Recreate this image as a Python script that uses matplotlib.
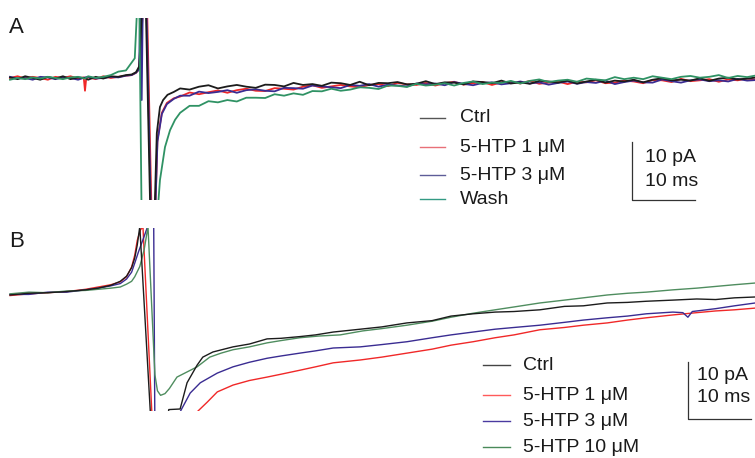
import matplotlib
matplotlib.use("Agg")
import matplotlib.pyplot as plt

plt.rcParams["font.family"] = ["Liberation Sans", "DejaVu Sans"]

# ---------------- Panel A (ms, pA) ----------------
a_t_pre = [0, 1.2, 2.4, 3.6, 4.8, 6, 7.2, 8.4, 9.6, 10.8, 11.9, 12.4, 13.6, 14.8, 16, 17.2, 18.4]
a_t_tail = [27.0, 28.5, 30.0, 31.5, 33.0, 34.5, 36.0, 37.5, 39.0, 40.5,
            42.0, 43.5, 45.0, 46.5, 48.0, 49.5, 51.0, 52.5, 54.0, 55.5,
            57.0, 58.5, 60.0, 61.5, 63.0, 64.5, 66.0, 67.5, 69.0, 70.5,
            72.0, 73.5, 75.0, 76.5, 78.0, 79.5, 81.0, 82.5, 84.0, 85.5,
            87.0, 88.5, 90.0, 91.5, 93.0, 94.5, 96.0, 97.5, 99.0, 100.5,
            102.0, 103.5, 105.0, 106.5, 108.0, 109.5, 111.0, 112.5, 114.0, 115.5,
            117.0, 118.5]

a_ctrl_pre = [0.1, -0.2, 0.3, 0.0, -0.3, 0.2, -0.1, 0.3, -0.2, 0.1, 0.0, -0.3, 0.2, -0.1, 0.3, 0.2, 0.5]
a_ctrl_t_stim = [19.3, 20.0, 20.5, 21.1, 21.5, 22.3, 22.9, 23.3, 23.8, 24.3, 25.0, 26.0]
a_ctrl_stim = [0.6, 1.0, 2.0, 15, 15, -25, -25, -9.5, -5.0, -3.8, -2.9, -2.4]
a_ctrl_tail = [-1.8, -2.0, -1.5, -1.25, -1.8, -1.45, -1.2, -1.5, -1.7, -1.15,
               -1.2, -1.45, -0.85, -1.2, -1.05, -1.35, -0.8, -0.9, -1.2, -0.65,
               -1.25, -0.85, -0.9, -0.7, -1.1, -1.0, -0.55, -1.05, -0.75, -0.8,
               -1.1, -0.6, -0.7, -0.9, -0.45, -0.95, -0.75, -1.0, -0.5, -0.6,
               -0.8, -0.45, -0.95, -0.6, -0.3, -0.8, -0.45, -0.6, -0.3, -0.75,
               -0.3, -0.05, -0.4, -0.3, -0.45, -0.05, -0.5, -0.1, 0.05, -0.25,
               -0.1, 0.1]

a_htp1_t_pre = [0, 1.2, 2.4, 3.6, 4.8, 6, 7.2, 8.4, 9.6, 10.8, 11.7, 11.9, 12.1, 12.4, 13.6, 14.8, 16, 17.2, 18.4]
a_htp1_pre = [0.0, 0.3, -0.1, 0.2, 0.0, -0.3, 0.2, 0.0, 0.3, -0.1, 0.1, -2.2, 0.0, 0.1, -0.2, 0.3, 0.0, 0.2, 0.4]
a_htp1_t_stim = [19.3, 20.0, 20.5, 21.3, 21.7, 22.5, 23.0, 23.4, 24.1, 24.9, 26.0]
a_htp1_stim = [0.5, 0.9, 1.5, 15, 15, -25, -25, -10.7, -6.0, -4.3, -3.5]
a_htp1_tail = [-3.2, -2.5, -2.8, -2.45, -2.15, -2.55, -2.1, -1.85, -2.2, -2.25,
               -1.75, -1.85, -2.0, -1.5, -1.25, -1.7, -1.45, -1.2, -1.45, -1.6,
               -1.2, -1.05, -1.4, -0.85, -1.1, -1.2, -0.85, -1.3, -0.9, -0.65,
               -1.15, -0.9, -0.7, -1.2, -0.75, -0.65, -0.95, -0.5, -1.0, -0.8,
               -0.6, -1.05, -0.65, -0.75, -0.4, -0.9, -0.8, -0.45, -0.6, -0.9,
               -0.35, -0.4, -0.7, -0.15, -0.55, -0.4, -0.2, -0.65, -0.25, -0.4,
               -0.1, -0.3]

a_htp3_pre = [0.2, -0.1, 0.0, -0.3, 0.2, 0.1, -0.2, 0.1, 0.0, -0.3, 0.1, 0.2, -0.1, 0.0, 0.2, 0.1, 0.4]
a_htp3_t_stim = [19.3, 20.0, 20.5, 20.7, 20.9, 21.1, 21.6, 22.4, 23.0, 23.4, 24.1, 24.9, 26.0]
a_htp3_stim = [0.5, 0.9, 1.5, 15, -3.8, 15, 15, -25, -25, -11.0, -6.2, -4.5, -3.6]
a_htp3_tail = [-3.05, -3.05, -2.35, -2.6, -2.4, -2.1, -2.55, -2.1, -1.95, -2.2,
               -2.3, -1.7, -1.75, -1.85, -1.3, -1.45, -1.6, -1.75, -1.2, -1.35,
               -1.05, -1.5, -1.15, -1.3, -1.45, -0.95, -1.1, -0.95, -1.25, -0.7,
               -1.0, -1.25, -0.85, -0.75, -1.1, -0.9, -0.6, -0.95, -0.75, -1.15,
               -0.85, -0.6, -1.0, -0.7, -0.85, -0.45, -1.05, -0.7, -0.45, -0.75,
               -0.8, -0.25, -0.55, -0.8, -0.4, -0.25, -0.55, -0.4, -0.6, -0.15,
               -0.45, -0.35]

a_wash_pre = [-0.3, 0.0, -0.2, 0.1, -0.1, 0.2, 0.0, -0.2, 0.1, 0.2, -0.1, 0.3, 0.0, 0.2, 0.5, 1.1, 1.3]
a_wash_t_stim = [19.0, 19.8, 20.3, 20.5, 20.9, 23.3, 23.8, 24.6, 25.4, 26.2]
a_wash_stim = [2.2, 3.4, 15, 15, -25, -25, -17.6, -11.9, -9.0, -7.2]
a_wash_tail = [-6.0, -4.8, -4.8, -4.0, -4.2, -3.8, -4.05, -3.4, -3.4, -3.45,
               -2.8, -3.05, -2.65, -2.9, -2.25, -2.3, -1.85, -2.2, -2.0, -1.6,
               -1.7, -1.9, -1.3, -1.35, -1.55, -1.0, -1.3, -1.15, -0.9, -1.3,
               -0.85, -0.6, -1.05, -0.8, -0.85, -0.5, -0.95, -0.5, -0.25, -0.7,
               -0.45, -0.3, -0.65, -0.1, -0.25, -0.4, 0.15, -0.2, 0.05, -0.2,
               0.3, 0.05, -0.2, 0.2, 0.35, 0.05, 0.2, 0.5, 0.0, 0.35,
               0.15, 0.45]

# ---------------- Panel B (ms, pA) ----------------
b_ctrl_t = [0, 3, 6, 9, 12, 14, 16, 17.5, 18.5, 19.3, 19.8, 20.2, 20.6, 22.5, 24.5, 25.2, 27.0,
            28.1, 29.7, 30.6, 32.2, 35.4, 38, 40.8, 43, 46, 48.5, 51.3, 55.6, 59, 63, 67, 70,
            73.5, 77, 80, 84.1, 88, 91, 94.8, 98, 101, 105.2, 109, 112, 115, 118.3]
b_ctrl = [0.0, 0.3, 0.4, 0.6, 0.9, 1.2, 1.7, 2.4, 3.3, 4.8, 6.5, 8.8, 12.0, -25, -25, -20.1, -20.0,
          -15.4, -12.3, -10.9, -10.0, -9.1, -8.6, -7.7, -7.6, -7.3, -7.0, -6.5, -6.0, -5.6, -4.9,
          -4.5, -3.7, -3.3, -3.0, -2.9, -2.6, -2.0, -1.9, -1.4, -1.3, -1.1, -0.9, -0.7, -0.8,
          -0.5, -0.35]

b_htp1_t = [0, 3, 6, 9, 12, 14, 16, 17.5, 18.5, 19.3, 19.8, 20.2, 20.7, 21.1, 22.7, 28.5, 29.7,
            31.3, 32.9, 35.4, 38, 40.8, 43, 46, 48.5, 51.3, 55.6, 59, 63, 67, 70, 73.5, 77, 80,
            84.1, 88, 91, 94.8, 98, 101, 105.2, 109, 112, 115, 118.3]
b_htp1 = [-0.1, 0.2, 0.4, 0.6, 1.0, 1.4, 1.8, 2.3, 3.2, 4.9, 7.0, 9.6, 11.4, 12.0, -25, -25, -20.5,
          -18.8, -17.0, -15.8, -15.0, -14.4, -13.9, -13.2, -12.6, -11.9, -11.4, -10.9, -10.2,
          -9.5, -8.8, -8.2, -7.5, -7.0, -6.1, -5.7, -5.3, -4.9, -4.4, -4.0, -3.5, -3.1, -2.8,
          -2.6, -2.3]

b_htp3_t = [0, 3, 6, 9, 12, 14, 16, 17.5, 18.5, 19.3, 19.8, 20.4, 21.2, 22.0, 22.8, 23.0, 26.0,
            27.0, 28.6, 30.2, 32.9, 35.4, 38, 40.8, 43, 46, 48.5, 51.3, 55.6, 59, 63, 67, 70,
            73.5, 77, 80, 84.1, 88, 91, 94.8, 98, 101, 105.2, 106.8, 107.6, 108.3, 112, 115, 118.3]
b_htp3 = [0.1, 0.1, 0.5, 0.5, 0.9, 1.2, 1.6, 2.0, 2.8, 4.0, 5.6, 7.6, 10.0, 12.5, 14, -25, -25,
          -20.5, -17.2, -15.4, -13.7, -12.6, -11.8, -11.1, -10.7, -10.2, -9.8, -9.3, -9.1, -8.7,
          -8.2, -7.5, -7.0, -6.5, -6.0, -5.7, -5.3, -4.8, -4.4, -4.0, -3.7, -3.3, -3.0, -3.1,
          -3.9, -2.9, -2.4, -1.9, -1.4]

b_htp10_t = [0, 3, 6, 9, 12, 14, 16, 17.5, 18.5, 19.3, 19.8, 20.6, 21.3, 21.9, 23.0, 23.4, 23.9,
             24.6, 25.3, 26.5, 28.1, 29.7, 31.7, 33.5, 35.4, 38, 40.8, 43, 46, 49, 52.4, 56, 59,
             63, 67, 70, 73.5, 77, 80, 84.1, 88, 91, 94.8, 98, 101, 105.2, 109, 112, 115, 118.3]
b_htp10 = [0.2, 0.5, 0.4, 0.7, 0.8, 1.0, 1.2, 1.4, 1.9, 2.4, 3.2, 5.0, 8.0, 12.0, -14.0, -16.8,
           -17.6, -17.3, -16.4, -14.4, -13.5, -12.6, -10.9, -10.2, -9.6, -9.1, -8.4, -8.0, -7.5,
           -7.2, -7.0, -6.3, -5.9, -5.3, -4.6, -3.9, -3.2, -2.6, -2.1, -1.4, -0.9, -0.5, 0.0,
           0.3, 0.5, 0.9, 1.2, 1.5, 1.8, 2.1]

legend_a = ["Ctrl", "5-HTP 1 \u03bcM", "5-HTP 3 \u03bcM", "Wash"]
legend_b = ["Ctrl", "5-HTP 1 \u03bcM", "5-HTP 3 \u03bcM", "5-HTP 10 \u03bcM"]

BLACK, RED, BLUE = "#1c1c1c", "#f02828", "#3a2c92"
GREEN_A, GREEN_B = "#2f9264", "#4f8d5f"
TXT = "#1a1a1a"
FS = 14

W, H = 755, 458
fig = plt.figure(figsize=(W / 100, H / 100), dpi=100)

# trace axes, placed in pixel rows of the reference
axA = fig.add_axes([0, 1 - 200 / H, 1, 182 / H])
axB = fig.add_axes([0, 1 - 411 / H, 1, 183 / H])
for ax in (axA, axB):
    ax.set_xlim(-1.59, 118.25)
    ax.axis("off")
axA.set_ylim(-21.03, 10.34)
axB.set_ylim(-20.35, 11.75)

lwA = 1.3
axA.plot(a_htp1_t_pre + a_htp1_t_stim + a_t_tail, a_htp1_pre + a_htp1_stim + a_htp1_tail, color=RED, lw=lwA)
axA.plot(a_t_pre + a_htp3_t_stim + a_t_tail, a_htp3_pre + a_htp3_stim + a_htp3_tail, color=BLUE, lw=lwA)
axA.plot(a_t_pre + a_ctrl_t_stim + a_t_tail, a_ctrl_pre + a_ctrl_stim + a_ctrl_tail, color=BLACK, lw=lwA)
axA.plot(a_t_pre + a_wash_t_stim + a_t_tail, a_wash_pre + a_wash_stim + a_wash_tail, color=GREEN_A, lw=lwA)

lwB = 1.0
axB.plot(b_htp1_t, b_htp1, color=RED, lw=lwB)
axB.plot(b_htp3_t, b_htp3, color=BLUE, lw=lwB)
axB.plot(b_htp10_t, b_htp10, color=GREEN_B, lw=lwB)
axB.plot(b_ctrl_t, b_ctrl, color=BLACK, lw=lwB)

# scale bars: 10 pA / 10 ms in data units
sb = dict(color="#333333", lw=0.9, clip_on=False)
axA.plot([98.7, 98.7, 108.7], [-11.0, -21.0, -21.0], **sb)
axB.plot([107.6, 107.6, 117.6], [-11.75, -21.75, -21.75], **sb)

# overlay in pixel coordinates for labels and legends
ov = fig.add_axes([0, 0, 1, 1])
ov.set_xlim(0, W)
ov.set_ylim(H, 0)
ov.axis("off")

ov.text(9, 33, "A", fontsize=16, color=TXT, va="baseline")
ov.text(9, 247, "B", fontsize=16, color=TXT, va="baseline")

leg_cols_a = ["#555555", "#e87078", "#5d5c98", "#339a84"]
for i, (lab, c) in enumerate(zip(legend_a, leg_cols_a)):
    y = [118, 147, 175, 199][i]
    ov.plot([420, 445], [y, y], color=c, lw=1.0)
    ov.text(460, y, lab, fontsize=FS, color=TXT, va="center")

leg_cols_b = ["#444444", "#ff5a5a", "#4a3aa0", "#4a8a5a"]
for i, (lab, c) in enumerate(zip(legend_b, leg_cols_b)):
    y = [365, 395, 421, 447][i]
    ov.plot([483, 510], [y, y], color=c, lw=1.0)
    ov.text(523, y, lab, fontsize=FS, color=TXT, va="center")

ov.text(645, 158, "10 pA", fontsize=FS, color=TXT, va="center")
ov.text(645, 181, "10 ms", fontsize=FS, color=TXT, va="center")
ov.text(697, 376, "10 pA", fontsize=FS, color=TXT, va="center")
ov.text(697, 398, "10 ms", fontsize=FS, color=TXT, va="center")

fig.savefig("out.png", dpi=100)
